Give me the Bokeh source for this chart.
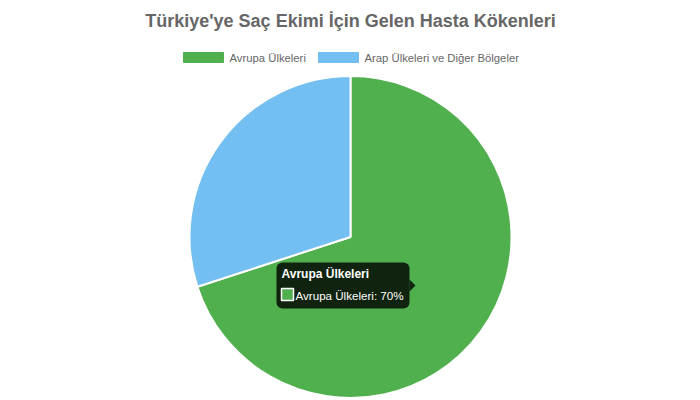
from bokeh.plotting import figure
from bokeh.models import Range1d, ColumnDataSource
from bokeh.core.properties import value
from bokeh.embed import file_html
from bokeh.resources import INLINE
import math

title_text = "Türkiye'ye Saç Ekimi İçin Gelen Hasta Kökenleri"
categories = ["Avrupa Ülkeleri", "Arap Ülkeleri ve Diğer Bölgeler"]
values = [70, 30]
colors = ["#50b04e", "#73bff1"]

FONT = "Liberation Sans"

def Y(iy):
    return 400 - iy

p = figure(width=700, height=400, output_backend="svg", toolbar_location=None,
           x_range=Range1d(0, 700), y_range=Range1d(0, 400), min_border=0,
           outline_line_color=None)
p.axis.visible = False
p.grid.visible = False
p.background_fill_color = "white"
p.border_fill_color = "white"

# pie: start at top, clockwise
total = sum(values)
starts, ends = [], []
cur = math.pi / 2
for v in values:
    ang = 2 * math.pi * v / total
    ends.append(cur)
    starts.append(cur - ang)
    cur -= ang
cx, cy, r = 350, Y(236.5), 161
src = ColumnDataSource(dict(start=starts, end=ends, color=colors, cat=categories))
p.wedge(x=cx, y=cy, radius=r, start_angle="start", end_angle="end", fill_color="color",
        line_color="white", line_width=2, source=src)

# title
p.text(x=[350], y=[Y(20)], text=[title_text], text_font=value(FONT), text_font_size="18px",
       text_font_style="bold", text_color="#666666", text_align="center", text_baseline="middle")

# legend
leg_x = [183, 318]
for lx, cat, col in zip(leg_x, categories, colors):
    p.quad(left=lx, right=lx + 40, top=Y(52), bottom=Y(62), fill_color=col, line_color=col, line_width=1)
    p.text(x=[lx + 46], y=[Y(57.5)], text=[cat], text_font=value(FONT), text_font_size="11.3px",
           text_color="#666666", text_align="left", text_baseline="middle")

# tooltip
p.quad(left=276, right=409, top=Y(262), bottom=Y(308), fill_color="black", fill_alpha=0.8,
       line_color=None, border_radius=6)
p.patch(x=[409, 415, 409], y=[Y(279), Y(285), Y(291)], fill_color="black", fill_alpha=0.8, line_color=None)
p.text(x=[281], y=[Y(273)], text=[categories[0]], text_font=value(FONT), text_font_size="12px",
       text_font_style="bold", text_color="white", text_align="left", text_baseline="middle")
p.quad(left=281, right=293, top=Y(288), bottom=Y(300), fill_color=colors[0], line_color="white", line_width=1.5)
p.text(x=[295], y=[Y(294.5)], text=[f"{categories[0]}: {values[0]}%"], text_font=value(FONT),
       text_font_size="11.6px", text_color="white", text_align="left", text_baseline="middle")

open("out.html", "w").write(file_html(p, INLINE))
